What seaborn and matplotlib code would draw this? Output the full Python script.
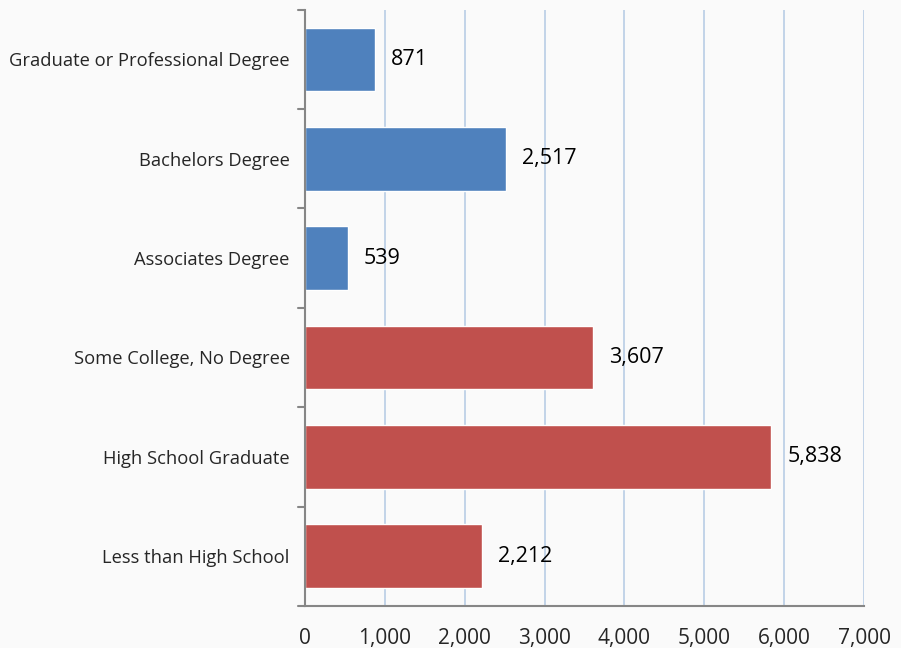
import matplotlib
matplotlib.use("Agg")
import matplotlib.pyplot as plt
import seaborn as sns
import pandas as pd

categories = ["Graduate or Professional Degree", "Bachelors Degree", "Associates Degree",
              "Some College, No Degree", "High School Graduate", "Less than High School"]
values = [871, 2517, 539, 3607, 5838, 2212]
groups = ["college", "college", "college", "no", "no", "no"]
palette = {"college": "#4F81BD", "no": "#C0504D"}
xticks = [0, 1000, 2000, 3000, 4000, 5000, 6000, 7000]

df = pd.DataFrame({"cat": categories, "val": values, "grp": groups})

sns.set_style("white")
plt.rcParams["font.family"] = ["Open Sans", "DejaVu Sans"]

fig = plt.figure(figsize=(9.01, 6.48), dpi=100, facecolor="#FAFAFA")
ax = fig.add_axes([0.3385, 0.065, 0.6205, 0.92])
ax.set_facecolor("#FAFAFA")

sns.barplot(data=df, y="cat", x="val", hue="grp", palette=palette, dodge=False,
            width=0.64, orient="h", legend=False, ax=ax, saturation=1)

ax.set_xlim(0, 7000)
ax.set_ylim(5.5, -0.5)
ax.set_xticks(xticks)
ax.set_xticklabels([f"{t:,}" for t in xticks], fontsize=15)
for t in xticks[1:]:
    ax.axvline(t, color="#B9CDE5", lw=1.2, zorder=0)

ax.set_yticks(range(len(categories)))
ax.set_yticklabels(categories, fontsize=13.2)
ax.tick_params(axis="y", length=0, pad=11)
for b in [i - 0.5 for i in range(len(categories) + 1)]:
    ax.plot([-0.012, 0], [b, b], transform=ax.get_yaxis_transform(), color="#868686",
            lw=1.5, clip_on=False)
ax.tick_params(axis="x", length=6, width=1.5, color="#868686", direction="out", pad=10)

for s in ["top", "right"]:
    ax.spines[s].set_visible(False)
for s in ["left", "bottom"]:
    ax.spines[s].set_color("#868686")
    ax.spines[s].set_linewidth(1.5)

ax.set_xlabel("")
ax.set_ylabel("")

for i, v in enumerate(values):
    ax.text(v + 200, i, f"{v:,}", va="center", ha="left", fontsize=15.5, color="black")

fig.savefig("out.png", dpi=100, facecolor=fig.get_facecolor())
